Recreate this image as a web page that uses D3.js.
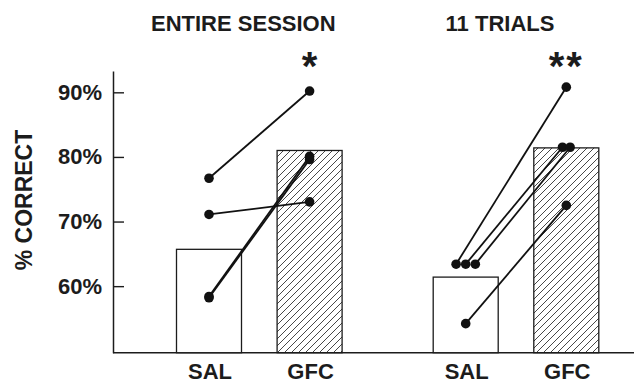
<!DOCTYPE html>
<html>
<head>
<meta charset="utf-8">
<script src="https://cdn.jsdelivr.net/npm/d3@7"></script>
<style>
  body { margin: 0; background: #fff; }
  text { font-family: "Liberation Sans", Arial, sans-serif; font-weight: bold; fill: #1c1c1c; }
</style>
</head>
<body>
<svg id="grafico" width="637" height="384"></svg>
<script>
//sessioni e condizioni
var sessioni = ['ENTIRE SESSION', '11 TRIALS'];
var condizioni = ['SAL', 'GFC'];
var asterischi = ['*', '**'];

//medie delle barre (% corrette)
var medieSAL = [65.7, 61.4];
var medieGFC = [81.0, 81.4];

//punteggi dei singoli soggetti, sessione intera
var salSessione = [76.7, 71.1, 58.4, 58.2];
var gfcSessione = [90.2, 73.05, 80.1, 79.6];

//punteggi dei singoli soggetti, 11 prove
var salProve = [63.4, 63.4, 63.4, 54.2];
var gfcProve = [90.8, 81.5, 81.5, 72.5];

//spostamento orizzontale dei punti sovrapposti (in diametri)
var scartoSAL = [[0, 0, 0, 0], [-1, 0, 1, 0]];
var scartoGFC = [[0, 0, 0, 0], [0, -0.4, 0.4, 0]];

var tickY = [60, 70, 80, 90];

var svg = d3.select('#grafico');

//scale
var y = d3.scaleLinear().domain([49.7, 93.3]).range([352.7, 71]);
var xSessione = d3.scalePoint().domain(sessioni).range([259.3, 516]);
var xCondizione = d3.scalePoint().domain(condizioni).range([-50.3, 50.3]);
var larghezza = 65;
var raggio = 4.8;

function centro(s, c) {
    return xSessione(s) + xCondizione(c);
}

//motivo tratteggiato per le barre GFC
var defs = svg.append('defs');
var motivo = defs.append('pattern')
    .attr('id', 'tratteggio')
    .attr('patternUnits', 'userSpaceOnUse')
    .attr('width', 7)
    .attr('height', 7);
motivo.append('path')
    .attr('d', 'M0,7 L7,0 M-1,1 L1,-1 M6,8 L8,6')
    .attr('stroke', '#333')
    .attr('stroke-width', 0.9);

//asse verticale
var asseY = d3.axisLeft(y)
    .tickValues(tickY)
    .tickFormat(function(d) { return d + '%'; })
    .tickSizeInner(-11)
    .tickSizeOuter(0)
    .tickPadding(11);

var gY = svg.append('g')
    .attr('transform', 'translate(113,0)')
    .call(asseY);
gY.select('.domain').attr('stroke', '#1c1c1c').attr('stroke-width', 1.5);
gY.selectAll('.tick line').attr('stroke', '#1c1c1c').attr('stroke-width', 1.4);
gY.selectAll('.tick text')
    .style('font-size', '22px')
    .style('font-family', '"Liberation Sans", Arial, sans-serif')
    .style('font-weight', 'bold')
    .attr('fill', '#1c1c1c');

//linea di base
svg.append('line')
    .attr('x1', 113).attr('x2', 634)
    .attr('y1', y(49.7)).attr('y2', y(49.7))
    .attr('stroke', '#1c1c1c')
    .attr('stroke-width', 1.4);

//titolo asse Y
svg.append('text')
    .attr('transform', 'translate(32,200) rotate(-90)')
    .attr('text-anchor', 'middle')
    .style('font-size', '23px')
    .text('% CORRECT');

//barre
var barre = [];
sessioni.forEach(function(s, i) {
    barre.push({ sessione: s, condizione: 'SAL', valore: medieSAL[i] });
    barre.push({ sessione: s, condizione: 'GFC', valore: medieGFC[i] });
});

svg.selectAll('.barra')
    .data(barre)
    .enter().append('rect')
    .attr('class', 'barra')
    .attr('x', function(d) { return centro(d.sessione, d.condizione) - larghezza / 2; })
    .attr('y', function(d) { return y(d.valore); })
    .attr('width', larghezza)
    .attr('height', function(d) { return y(49.7) - y(d.valore); })
    .attr('fill', function(d) { return d.condizione == 'GFC' ? 'url(#tratteggio)' : '#fff'; })
    .attr('stroke', '#1c1c1c')
    .attr('stroke-width', 1.3);

//soggetti: coppie SAL -> GFC
var soggetti = [];
var salTutti = [salSessione, salProve];
var gfcTutti = [gfcSessione, gfcProve];
sessioni.forEach(function(s, i) {
    salTutti[i].forEach(function(v, j) {
        soggetti.push({
            x1: centro(s, 'SAL') + scartoSAL[i][j] * raggio * 2,
            y1: y(v),
            x2: centro(s, 'GFC') + scartoGFC[i][j] * raggio * 2,
            y2: y(gfcTutti[i][j])
        });
    });
});

svg.selectAll('.collegamento')
    .data(soggetti)
    .enter().append('line')
    .attr('class', 'collegamento')
    .attr('x1', function(d) { return d.x1; })
    .attr('y1', function(d) { return d.y1; })
    .attr('x2', function(d) { return d.x2; })
    .attr('y2', function(d) { return d.y2; })
    .attr('stroke', '#111')
    .attr('stroke-width', 1.8);

var punti = [];
soggetti.forEach(function(d) {
    punti.push([d.x1, d.y1]);
    punti.push([d.x2, d.y2]);
});

svg.selectAll('.punto')
    .data(punti)
    .enter().append('circle')
    .attr('class', 'punto')
    .attr('cx', function(d) { return d[0]; })
    .attr('cy', function(d) { return d[1]; })
    .attr('r', raggio)
    .attr('fill', '#111');

//titoli delle sessioni
svg.selectAll('.titolo')
    .data(sessioni)
    .enter().append('text')
    .attr('class', 'titolo')
    .attr('x', function(d) { return xSessione(d) - 16; })
    .attr('y', 31)
    .attr('text-anchor', 'middle')
    .style('font-size', '22px')
    .text(function(d) { return d; });

//etichette delle condizioni
var etichette = [];
sessioni.forEach(function(s) {
    condizioni.forEach(function(c) { etichette.push({ sessione: s, condizione: c }); });
});

svg.selectAll('.etichetta')
    .data(etichette)
    .enter().append('text')
    .attr('class', 'etichetta')
    .attr('x', function(d) { return centro(d.sessione, d.condizione) + 1; })
    .attr('y', 379)
    .attr('text-anchor', 'middle')
    .style('font-size', '22px')
    .text(function(d) { return d.condizione; });

//asterischi di significatività
svg.selectAll('.asterisco')
    .data(sessioni)
    .enter().append('text')
    .attr('class', 'asterisco')
    .attr('x', function(d) { return centro(d, 'GFC'); })
    .attr('y', 80)
    .attr('text-anchor', 'middle')
    .style('font-size', '40px')
    .style('letter-spacing', function(d, i) { return i ? '2px' : '0px'; })
    .text(function(d, i) { return asterischi[i]; });
</script>
</body>
</html>
